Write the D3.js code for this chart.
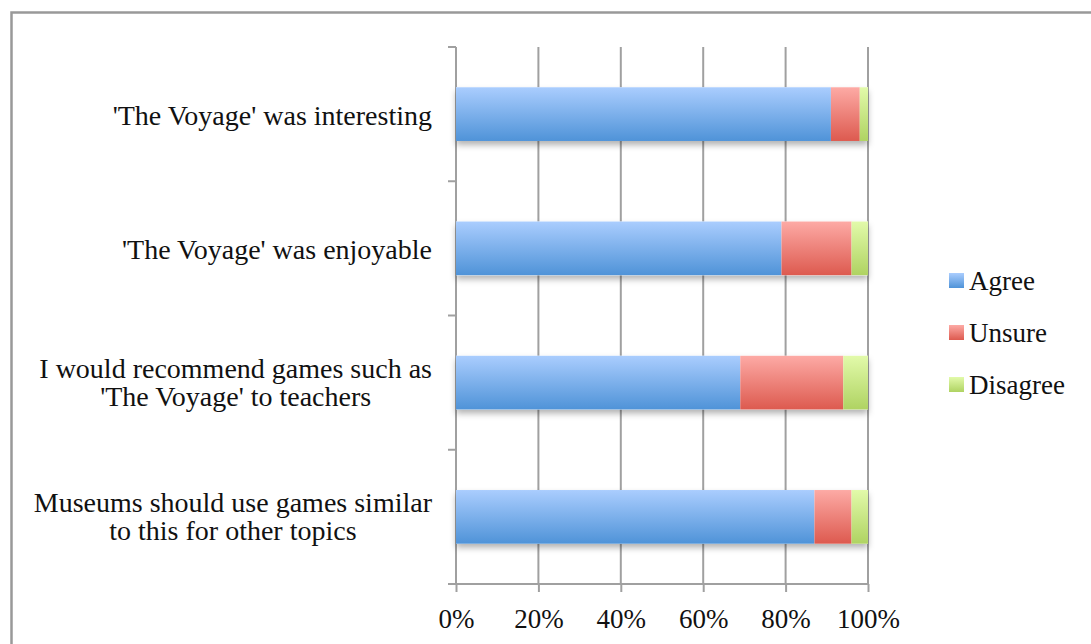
<!DOCTYPE html>
<html lang="en">
<head>
    <style>
        body { margin: 0; background: #fff; }
        text { font-family: "Liberation Serif", "DejaVu Serif", serif; fill: #111; }
    </style>
    <script src="https://d3js.org/d3.v7.min.js"></script>
</head>
<body>
    <svg width="1091" height="644"></svg>
    <script>
        var categories = [
            ["'The Voyage' was interesting"],
            ["'The Voyage' was enjoyable"],
            ["I would recommend games such as", "'The Voyage' to teachers"],
            ["Museums should use games similar", "to this for other topics"]
        ];
        var seriesNames = ["Agree", "Unsure", "Disagree"];
        var agree = [91, 79, 69, 87];
        var unsure = [7, 17, 25, 9];
        var disagree = [2, 4, 6, 4];
        var tickValues = [0, 20, 40, 60, 80, 100];

        var svg = d3.select("svg");

        // outer frame
        svg.append("rect")
            .attr("x", 11.5).attr("y", 12.5)
            .attr("width", 1100).attr("height", 700)
            .attr("fill", "none").attr("stroke", "#999").attr("stroke-width", 2.5);

        var colors = [
            ["#aacdfe", "#4f93d8"],
            ["#fdaaa5", "#dd5a4f"],
            ["#e2faaa", "#afd362"]
        ];
        var defs = svg.append("defs");
        colors.forEach(function(c, i) {
            var lg = defs.append("linearGradient")
                .attr("id", "grad" + i)
                .attr("x1", 0).attr("y1", 0).attr("x2", 0).attr("y2", 1);
            lg.append("stop").attr("offset", "0%").attr("stop-color", c[0]);
            lg.append("stop").attr("offset", "100%").attr("stop-color", c[1]);
        });
        var f = defs.append("filter").attr("id", "shadow")
            .attr("x", "-5%").attr("y", "-20%").attr("width", "110%").attr("height", "160%");
        f.append("feDropShadow").attr("dx", 0).attr("dy", 4).attr("stdDeviation", 3)
            .attr("flood-color", "#000").attr("flood-opacity", 0.3);

        var plotL = 456, plotR = 868, plotT = 47, plotB = 584;

        var x = d3.scaleLinear().domain([0, 100]).range([plotL, plotR]);
        var y = d3.scaleBand().domain(d3.range(categories.length))
            .range([plotT, plotB]).paddingInner(0.6).paddingOuter(0.3);

        // gridlines
        svg.append("g").selectAll("line")
            .data(tickValues.slice(1))
            .enter().append("line")
            .attr("x1", function(d) { return x(d); })
            .attr("x2", function(d) { return x(d); })
            .attr("y1", plotT).attr("y2", plotB)
            .attr("stroke", "#a0a0a0").attr("stroke-width", 2);

        // bottom axis
        var xAxis = svg.append("g")
            .attr("transform", "translate(0," + plotB + ")")
            .call(d3.axisBottom(x).tickValues(tickValues).tickSize(8).tickPadding(17)
                .tickFormat(function(d) { return d + "%"; }));
        xAxis.select(".domain").remove();
        xAxis.append("line").attr("x1", plotL - 8).attr("x2", plotR)
            .attr("stroke", "#a0a0a0").attr("stroke-width", 2);
        xAxis.selectAll(".tick line").attr("stroke", "#a0a0a0").attr("stroke-width", 2);
        xAxis.selectAll(".tick text")
            .style("font-family", "'Liberation Serif', serif")
            .attr("font-size", "27px").attr("fill", "#111");

        // left axis
        var step = (plotB - plotT) / categories.length;
        var yAxis = svg.append("g");
        yAxis.append("line").attr("x1", plotL).attr("x2", plotL)
            .attr("y1", plotT).attr("y2", plotB)
            .attr("stroke", "#a0a0a0").attr("stroke-width", 2);
        yAxis.selectAll(".ytick")
            .data(d3.range(categories.length + 1))
            .enter().append("line")
            .attr("x1", plotL - 8).attr("x2", plotL)
            .attr("y1", function(d) { return plotT + d * step; })
            .attr("y2", function(d) { return plotT + d * step; })
            .attr("stroke", "#a0a0a0").attr("stroke-width", 2);

        // stacked bars
        var data = categories.map(function(c, i) {
            return { i: i, Agree: agree[i], Unsure: unsure[i], Disagree: disagree[i] };
        });
        var stack = d3.stack().keys(seriesNames)(data);

        var barG = svg.append("g");
        barG.selectAll(".shadow")
            .data(data)
            .enter().append("rect")
            .attr("x", x(0))
            .attr("y", function(d) { return y(d.i); })
            .attr("width", function(d) { return x(d.Agree + d.Unsure + d.Disagree) - x(0); })
            .attr("height", y.bandwidth())
            .attr("fill", "#fff")
            .attr("filter", "url(#shadow)");

        stack.forEach(function(layer, k) {
            barG.append("g").selectAll("rect")
                .data(layer)
                .enter().append("rect")
                .attr("x", function(d) { return x(d[0]); })
                .attr("y", function(d) { return y(d.data.i); })
                .attr("width", function(d) { return x(d[1]) - x(d[0]); })
                .attr("height", y.bandwidth())
                .attr("fill", "url(#grad" + k + ")");
        });

        // category labels
        var labelRight = 432, lineH = 28;
        categories.forEach(function(lines, i) {
            var cy = y(i) + y.bandwidth() / 2;
            var g = svg.append("g");
            var texts = lines.map(function(l, j) {
                return g.append("text")
                    .attr("font-size", "28px")
                    .attr("text-anchor", "middle")
                    .attr("y", cy + (j - (lines.length - 1) / 2) * lineH + (lines.length > 1 ? 9 : 11))
                    .text(l);
            });
            var maxW = d3.max(texts, function(t) { return t.node().getComputedTextLength(); });
            texts.forEach(function(t) { t.attr("x", labelRight - maxW / 2); });
        });

        // legend
        var legend = svg.append("g").attr("transform", "translate(949,273)");
        seriesNames.forEach(function(name, k) {
            var row = legend.append("g").attr("transform", "translate(0," + k * 52 + ")");
            row.append("rect").attr("width", 15).attr("height", 15)
                .attr("fill", "url(#grad" + k + ")");
            row.append("text").attr("x", 20).attr("y", 17)
                .attr("font-size", "27px").text(name);
        });
    </script>
</body>
</html>
